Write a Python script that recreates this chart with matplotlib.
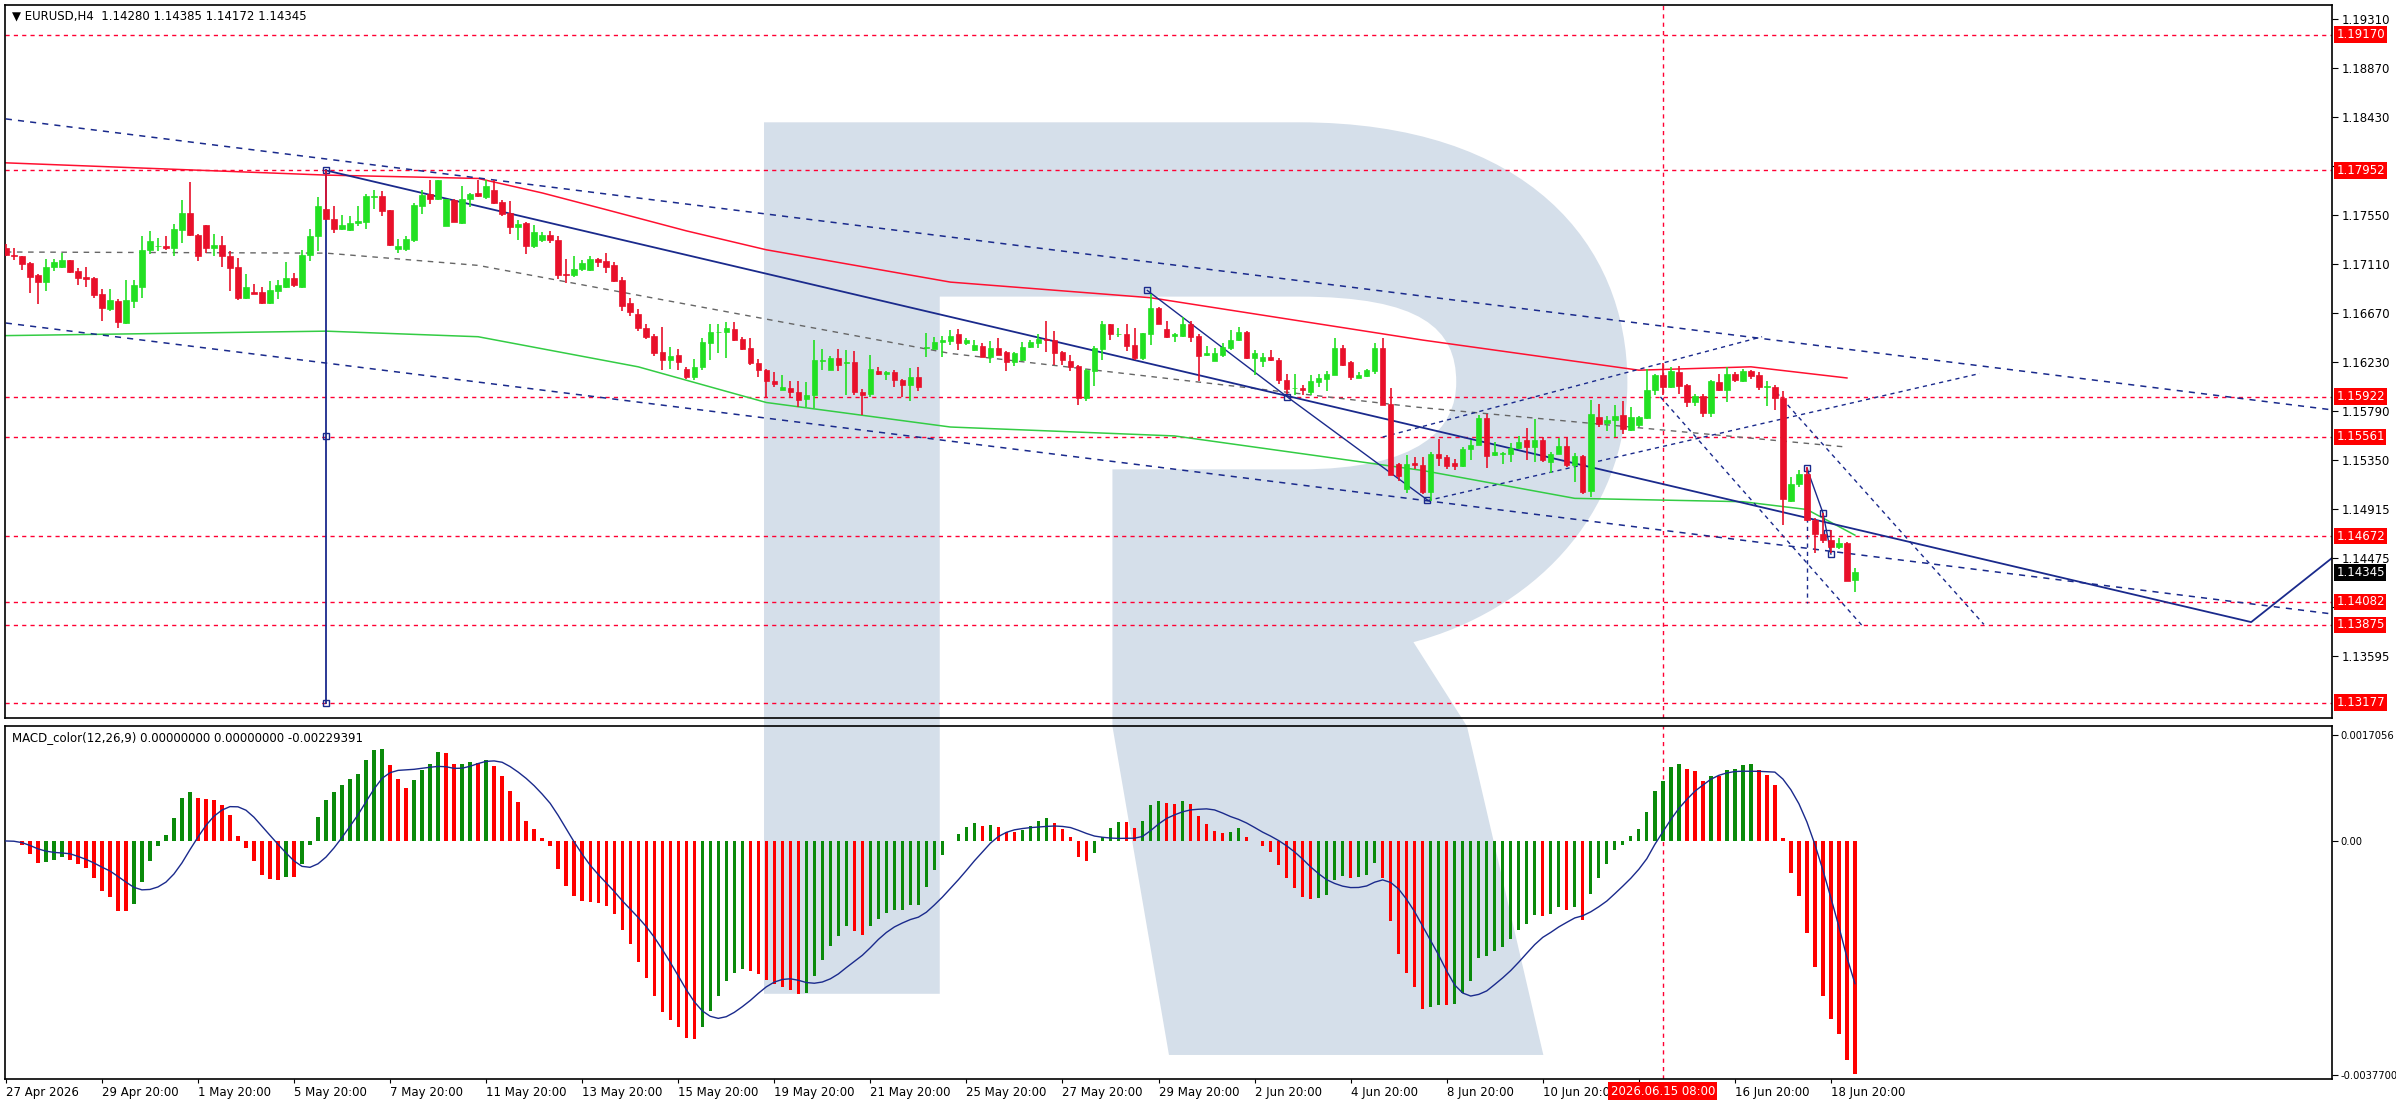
import numpy as np
import matplotlib
matplotlib.use("Agg")
import matplotlib.pyplot as plt
from matplotlib.path import Path
from matplotlib.patches import PathPatch

# ---- data (prices in 1e-4 units) ----
OPEN = [11726,11719,11718,11712,11701,11695,11709,11709,11715,11705,
        11700,11699,11684,11671,11678,11658,11678,11691,11724,11727,
        11727,11726,11742,11757,11737,11746,11726,11728,11718,11709,
        11681,11686,11686,11676,11687,11691,11699,11691,11719,11736,
        11761,11752,11743,11742,11748,11749,11771,11772,11760,11725,
        11725,11733,11763,11774,11770,11745,11769,11748,11770,11775,
        11771,11778,11767,11757,11744,11748,11727,11733,11737,11733,
        11702,11701,11707,11706,11716,11714,11710,11697,11676,11666,
        11654,11647,11632,11625,11630,11617,11610,11619,11640,11650,
        11650,11653,11644,11636,11622,11616,11606,11598,11600,11596,
        11590,11594,11624,11616,11627,11622,11623,11596,11595,11615,
        11613,11614,11607,11603,11610,11636,11635,11641,11642,
        11648,11640,11634,11638,11628,11636,11632,11623,11625,11637,
        11640,11644,11643,11632,11624,11620,11591,11615,11635,11657,
        11648,11648,11639,11627,11648,11672,11653,11647,11647,11657,
        11647,11630,11624,11630,11636,11643,11650,11627,11624,11628,
        11625,11607,11600,11600,11596,11605,11608,11612,11636,11623,
        11609,11611,11615,11636,11586,11532,11509,11533,
        11531,11507,11541,11538,11533,11530,11545,11549,11573,11540,
        11541,11541,11546,11553,11547,11553,11534,11541,11548,11531,
        11539,11508,11574,11569,11571,11576,11562,11567,11573,11598,
        11612,11601,11614,11603,11587,11593,11578,11605,11598,11613,
        11606,11615,11612,11601,11601,11591,11499,11514,11523,11482,
        11469,11464,11457,11461,11428]
HIGH = [11729,11726,11718,11713,11702,11716,11716,11721,11715,11708,
        11709,11700,11689,11689,11680,11697,11697,11736,11741,11735,
        11736,11747,11769,11785,11738,11746,11738,11736,11723,11717,
        11702,11693,11691,11696,11697,11713,11703,11724,11743,11771,
        11796,11763,11755,11754,11763,11774,11778,11777,11760,11734,
        11736,11766,11778,11787,11787,11770,11770,11781,11775,11787,
        11787,11787,11769,11768,11751,11749,11746,11740,11741,11736,
        11716,11718,11715,11718,11717,11721,11713,11700,11681,11671,
        11657,11648,11655,11637,11635,11619,11626,11645,11657,11657,
        11659,11659,11646,11645,11626,11617,11614,11612,11606,11606,
        11605,11643,11635,11629,11635,11634,11633,11599,11630,11619,
        11615,11616,11608,11618,11619,11649,11646,11647,11652,
        11653,11645,11643,11640,11642,11645,11633,11632,11641,11643,
        11648,11660,11651,11633,11630,11621,11617,11638,11660,11657,
        11654,11657,11654,11649,11684,11673,11660,11649,11664,11660,
        11648,11638,11636,11640,11652,11655,11651,11634,11631,11634,
        11627,11613,11613,11603,11612,11613,11615,11645,11639,11624,
        11614,11617,11640,11645,11600,11533,11540,11538,
        11538,11543,11554,11540,11536,11547,11553,11576,11577,11552,
        11543,11551,11557,11564,11572,11556,11543,11555,11556,11542,
        11540,11589,11586,11575,11585,11588,11583,11575,11617,11613,
        11622,11619,11620,11604,11595,11595,11607,11613,11619,11614,
        11617,11616,11614,11606,11603,11597,11520,11526,11529,11483,
        11488,11473,11465,11462,11438.5]
LOW = [11718,11715,11706,11685,11675,11687,11705,11708,11703,11692,
       11691,11681,11660,11669,11654,11657,11672,11681,11720,11723,
       11724,11718,11730,11736,11714,11721,11718,11709,11687,11679,
       11680,11684,11675,11675,11680,11690,11691,11690,11714,11723,
       11751,11739,11742,11741,11745,11743,11761,11754,11727,11721,
       11723,11731,11756,11765,11769,11745,11749,11747,11762,11771,
       11770,11765,11754,11738,11733,11720,11726,11731,11730,11698,
       11694,11700,11705,11705,11709,11703,11695,11669,11665,11651,
       11644,11629,11616,11617,11616,11608,11607,11616,11625,11631,
       11627,11642,11634,11621,11610,11592,11601,11598,11592,11583,
       11583,11582,11616,11616,11615,11594,11594,11576,11592,11612,
       11607,11601,11592,11588,11597,11628,11635,11628,11639,
       11634,11639,11633,11628,11622,11630,11615,11620,11624,11636,
       11636,11632,11621,11621,11615,11585,11588,11602,11625,11643,
       11646,11633,11625,11625,11639,11657,11645,11641,11646,11641,
       11606,11629,11624,11628,11634,11642,11626,11612,11619,11624,
       11604,11595,11594,11594,11594,11601,11597,11612,11620,11607,
       11609,11610,11613,11585,11522,11517,11506,11527,
       11505,11499,11530,11527,11526,11529,11535,11549,11528,11539,
       11532,11534,11545,11535,11534,11534,11524,11541,11529,11516,
       11505,11502,11565,11561,11556,11559,11561,11565,11572,11594,
       11594,11600,11595,11583,11584,11574,11574,11597,11587,11605,
       11605,11608,11598,11584,11580,11477,11498,11511,11481,11452,
       11461,11452,11456,11427,11417.2]
CLOSE = [11719,11718,11711,11700,11695,11709,11713,11715,11704,11699,
         11698,11683,11672,11679,11659,11679,11692,11724,11732,11727,
         11726,11743,11757,11737,11718,11726,11728,11718,11708,11681,
         11691,11684,11676,11688,11692,11699,11692,11719,11736,11763,
         11752,11743,11746,11748,11750,11772,11772,11759,11728,11727,
         11734,11764,11773,11770,11787,11770,11749,11770,11774,11772,
         11781,11766,11756,11744,11747,11727,11740,11737,11733,11701,
         11701,11707,11712,11716,11713,11709,11696,11674,11668,11654,
         11646,11631,11625,11629,11623,11610,11619,11641,11650,11650,
         11654,11643,11635,11622,11616,11606,11604,11601,11596,11589,
         11594,11625,11625,11627,11621,11623,11596,11594,11617,11613,
         11614,11607,11603,11610,11601,11636,11641,11643,11647,
         11640,11643,11639,11628,11636,11630,11623,11631,11637,11641,
         11644,11643,11631,11625,11619,11591,11616,11636,11657,11648,
         11648,11638,11627,11649,11672,11657,11646,11648,11657,11646,
         11629,11631,11631,11637,11643,11650,11627,11631,11628,11625,
         11607,11599,11600,11598,11606,11609,11613,11636,11621,11610,
         11612,11616,11636,11585,11522,11521,11532,11531,
         11507,11541,11537,11530,11530,11545,11549,11573,11539,11543,
         11541,11546,11552,11547,11553,11535,11541,11548,11531,11539,
         11507,11577,11568,11571,11575,11563,11574,11574,11598,11612,
         11601,11615,11602,11587,11593,11578,11606,11598,11613,11607,
         11615,11611,11601,11601,11591,11500,11514,11523,11482,11469,
         11464,11457,11461,11427,11434.5]

# moving averages (bar, price)
RED_MA = [(0, 1.1802), (40, 1.1791), (59, 1.1788), (67, 1.1775), (75, 1.1760), (85, 1.1741),
          (95, 1.1724), (118, 1.1695), (143, 1.1681), (177, 1.1643), (204, 1.1616),
          (218, 1.1619), (230, 1.1609)]
GREEN_MA = [(0, 1.1647), (40, 1.1651), (59, 1.1646), (79, 1.1619), (95, 1.1587), (118, 1.1565),
            (146, 1.1557), (177, 1.1526), (196, 1.1501), (217, 1.1498), (225, 1.1491), (231, 1.1468)]
MID_CHANNEL = [(0, 1.1722), (40, 1.1721), (59, 1.1710), (118, 1.1631), (176, 1.1583), (230, 1.1547)]

LEVELS = [1.19170, 1.17952, 1.15922, 1.15561, 1.14672, 1.14082, 1.13875, 1.13177]
PRICE_TICKS = [1.19310, 1.18870, 1.18430, 1.17990, 1.17550, 1.17110, 1.16670, 1.16230,
               1.15790, 1.15350, 1.14915, 1.14475, 1.14035, 1.13595]
HIDDEN_TICKS = [1.17990, 1.14035]   # covered by level labels in the reference
CURRENT = 1.14345
DATE_LABELS = ["27 Apr 2026", "29 Apr 20:00", "1 May 20:00", "5 May 20:00", "7 May 20:00",
               "11 May 20:00", "13 May 20:00", "15 May 20:00", "19 May 20:00", "21 May 20:00",
               "25 May 20:00", "27 May 20:00", "29 May 20:00", "2 Jun 20:00", "4 Jun 20:00",
               "8 Jun 20:00", "10 Jun 20:00", "", "16 Jun 20:00", "18 Jun 20:00"]
CURSOR_BAR = 207
CURSOR_LABEL = "2026.06.15 08:00"

o = np.array(OPEN) / 1e4
h = np.array(HIGH) / 1e4
l = np.array(LOW) / 1e4
c = np.array(CLOSE) / 1e4
n = len(c)
x = np.arange(n)

# MACD(12,26,9), signal as SMA like MetaTrader
def ema(v, p):
    a = 2.0 / (p + 1)
    out = np.empty_like(v)
    out[0] = v[0]
    for i in range(1, len(v)):
        out[i] = a * v[i] + (1 - a) * out[i - 1]
    return out

macd = ema(c, 12) - ema(c, 26)
signal = np.convolve(macd, np.ones(9) / 9, mode="full")[:n]
signal[:8] = [macd[:i + 1].mean() for i in range(8)]

GREEN = "#22e022"
RED = "#e8102a"
NAVY = "#1a2a8c"

fig = plt.figure(figsize=(23.96, 11.10), dpi=100)
ax = fig.add_axes([0.0021, 0.3532, 0.9712, 0.6423])
mx = fig.add_axes([0.0021, 0.0279, 0.9712, 0.3180], sharex=ax)
for a in (ax, mx):
    a.set_facecolor("none")
    for s in a.spines.values():
        s.set_color("black")
        s.set_linewidth(1.2)

# watermark logo (figure decoration, display coords of a 1568x726 view)
def F(px, py):
    return (px / 1568.0, 1 - py / 726.0)

M, L4, C4 = Path.MOVETO, Path.LINETO, Path.CURVE4
logo_pts = [(500, 80), (850, 80), (1000, 80), (1065, 160), (1065, 250), (1065, 340), (1000, 400),
            (925, 420), (960, 475), (1010, 690), (765, 690), (728, 475), (728, 307), (850, 307),
            (930, 307), (953, 280), (953, 250), (953, 215), (930, 194), (850, 194), (615, 194),
            (615, 650), (500, 650), (500, 80)]
logo_codes = [M, L4, C4, C4, C4, C4, C4, C4, L4, L4, L4, L4, L4, L4,
              C4, C4, C4, C4, C4, C4, L4, L4, L4, Path.CLOSEPOLY]
logo = PathPatch(Path([F(*p) for p in logo_pts], logo_codes), transform=fig.transFigure,
                 fc="#d5dfea", ec="none", zorder=-5)
fig.patches.append(logo)

# ---- price panel ----
for lv in LEVELS:
    ax.axhline(lv, color="#ff0033", lw=1, ls=(0, (3, 3)), zorder=1)
ax.axvline(CURSOR_BAR, color="#ff0033", lw=1, ls=(0, (3, 3)), zorder=1)
mx.axvline(CURSOR_BAR, color="#ff0033", lw=1, ls=(0, (3, 3)), zorder=1)

xr, yr = zip(*RED_MA)
ax.plot(xr, yr, color="#ff1030", lw=1.1, zorder=2)
xg, yg = zip(*GREEN_MA)
ax.plot(xg, yg, color="#33cc44", lw=1.1, zorder=2)
xm, ym = zip(*MID_CHANNEL)
ax.plot(xm, ym, color="#666666", lw=1, ls=(0, (4, 4)), zorder=2)

xend = 290.6
ax.plot([0, xend], [1.18414, 1.15804], color=NAVY, lw=1.1, ls=(0, (4, 4)), zorder=2)
ax.plot([0, xend], [1.16583, 1.13973], color=NAVY, lw=1.1, ls=(0, (4, 4)), zorder=2)
ax.plot([40, 280.5, xend], [1.17952, 1.1390, 1.14475], color=NAVY, lw=1.3, zorder=2)
ax.plot([40, 40, 40], [1.17952, 1.15565, 1.13177], color=NAVY, lw=1.3, marker="s",
        ms=5, mfc="none", mec=NAVY, zorder=2)
ax.plot([142.6, 160.1, 177.6], [1.16875, 1.15919, 1.14995], color=NAVY, lw=1, marker="s",
        ms=5, mfc="none", mec=NAVY, zorder=2)
for (x0, y0), (x1, y1) in [((172, 1.1556), (219.4, 1.1646)), ((177.6, 1.1499), (246.6, 1.1613)),
                           ((206.7, 1.1592), (232, 1.1386)), ((221.2, 1.1596), (247.1, 1.1388)),
                           ((225, 1.1528), (225, 1.1407))]:
    ax.plot([x0, x1], [y0, y1], color=NAVY, lw=1, ls=(0, (3, 3)), zorder=2)
ax.plot([225, 227, 227.5, 228], [1.1528, 1.1488, 1.1470, 1.1451], color=NAVY, lw=1,
        marker="s", ms=4, mfc="none", mec=NAVY, zorder=2)

# candles
up = c >= o
col = np.where(up, GREEN, RED)
ax.vlines(x, l, h, colors=col, lw=1.2, zorder=3)
body = np.maximum(np.abs(c - o), 0.00004)
ax.bar(x, body, bottom=np.minimum(o, c), width=0.68, color=col, edgecolor=col, lw=0.5, zorder=4)

ax.set_xlim(-0.1, xend)
ax.set_ylim(1.13040, 1.19436)
ax.yaxis.tick_right()
ax.set_yticks(PRICE_TICKS)
ax.set_yticklabels(["" if t in HIDDEN_TICKS else f"{t:.5f}" for t in PRICE_TICKS])
ax.tick_params(axis="y", length=4, labelsize=8.5, pad=3, direction="out")
ax.tick_params(axis="x", bottom=False, labelbottom=False)

for lv in LEVELS:
    ax.annotate(f"{lv:.5f}", xy=(1, lv), xycoords=("axes fraction", "data"), xytext=(3, 0),
                textcoords="offset points", ha="left", va="center", fontsize=8.5, color="white",
                bbox=dict(boxstyle="square,pad=0.15", fc="#ff0000", ec="none"),
                annotation_clip=False, zorder=6)
ax.annotate(f"{CURRENT:.5f}", xy=(1, CURRENT), xycoords=("axes fraction", "data"), xytext=(3, 0),
            textcoords="offset points", ha="left", va="center", fontsize=8.5, color="white",
            bbox=dict(boxstyle="square,pad=0.15", fc="black", ec="none"),
            annotation_clip=False, zorder=6)
ax.text(0.003, 0.993, "\u25bc EURUSD,H4  1.14280 1.14385 1.14172 1.14345", transform=ax.transAxes,
        ha="left", va="top", fontsize=8.5)

# ---- MACD panel ----
diff = np.diff(macd, prepend=macd[0])
mcol = np.where(diff >= 0, "#0a8a0a", "#ff0000")
mx.bar(x, macd, width=0.42, color=mcol, zorder=3)
mx.plot(x, signal, color=NAVY, lw=1, zorder=4)
mx.set_ylim(-0.003834, 0.001851)
mx.yaxis.tick_right()
mx.set_yticks([0.0017056, 0.0, -0.00377])
mx.set_yticklabels(["0.0017056", "0.00", "-0.0037700"])
mx.tick_params(axis="y", length=4, labelsize=7.2, pad=2)
mx.text(0.003, 0.985, "MACD_color(12,26,9) 0.00000000 0.00000000 -0.00229391",
        transform=mx.transAxes, ha="left", va="top", fontsize=8.5)

mx.set_xticks([12 * k for k in range(len(DATE_LABELS))])
mx.set_xticklabels(DATE_LABELS)
mx.tick_params(axis="x", length=3, labelsize=8.5, pad=2)
for t in mx.get_xticklabels():
    t.set_ha("left")
mx.annotate(CURSOR_LABEL, xy=(CURSOR_BAR, 0), xycoords=("data", "axes fraction"), xytext=(0, -4),
            textcoords="offset points", ha="center", va="top", fontsize=8.5, color="white",
            bbox=dict(boxstyle="square,pad=0.2", fc="#ff0000", ec="none"),
            annotation_clip=False, zorder=6)

fig.savefig("out.png", dpi=100, facecolor="white")
